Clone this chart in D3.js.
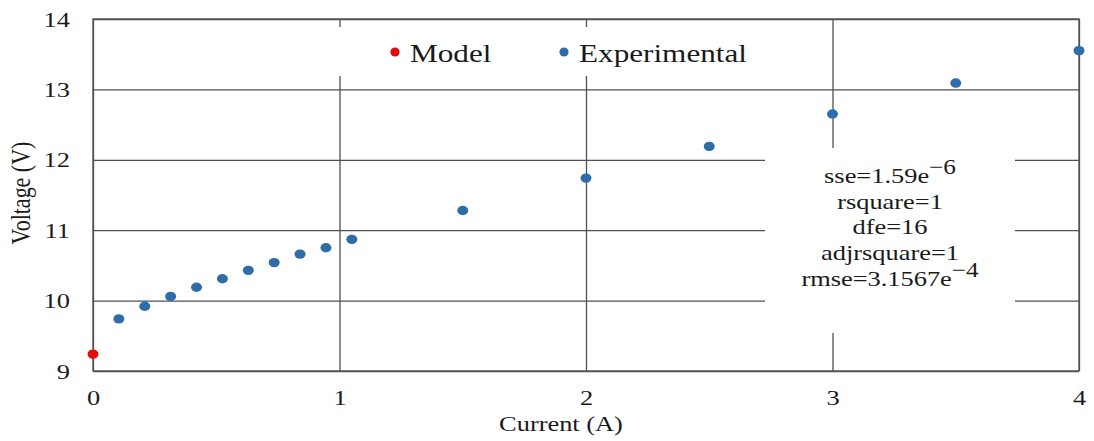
<!DOCTYPE html>
<html>
<head>
<meta charset="utf-8">
<script src="https://cdn.jsdelivr.net/npm/d3@7"></script>
<style>
  html, body { margin: 0; padding: 0; background: #fff; }
  svg { display: block; }
  text { font-family: "Liberation Serif", "Times New Roman", serif; fill: #1a1a1a; }
</style>
</head>
<body>
<svg id="chart" width="1094" height="441"></svg>
<script>
// ---- data ----
const currentModel = [0];
const voltageModel = [9.24];
const currentExp = [0.105, 0.21, 0.315, 0.42, 0.525, 0.63, 0.735, 0.84, 0.945, 1.05, 1.5, 2.0, 2.5, 3.0, 3.5, 4.0];
const voltageExp = [9.74, 9.92, 10.06, 10.19, 10.31, 10.43, 10.54, 10.66, 10.75, 10.87, 11.28, 11.74, 12.19, 12.65, 13.09, 13.55];
const xTicks = [0, 1, 2, 3, 4];
const yTicks = [9, 10, 11, 12, 13, 14];
const legendLabels = ["Model", "Experimental"];
const fitLabels = ["sse=1.59e", "rsquare=1", "dfe=16", "adjrsquare=1", "rmse=3.1567e"];
const fitExponents = ["\u22126", "", "", "", "\u22124"];
const xTitle = "Current (A)";
const yTitle = "Voltage (V)";

// ---- layout ----
const svg = d3.select("#chart");
const L = 93, R = 1079, T = 19, B = 371;
const SX = 1.2;           // horizontal stretch of the original text
const gridColor = "#505050";
const blue = "#2f6da8", red = "#e30a0a";

const x = d3.scaleLinear().domain([0, 4]).range([L, R]);
const y = d3.scaleLinear().domain([9, 14]).range([B, T]);

// vertical gridlines + x tick labels
const gx = svg.append("g").attr("transform", `translate(0,${B})`)
  .call(d3.axisBottom(x).tickValues(xTicks).tickFormat(d3.format("d"))
    .tickSize(-(B - T)).tickPadding(18));
gx.select(".domain").remove();
gx.selectAll(".tick line").attr("stroke", gridColor).attr("stroke-width", 1.3);
gx.selectAll(".tick text")
  .attr("font-size", 22).attr("font-family", "Liberation Serif").attr("fill", "#1a1a1a")
  .attr("transform", function() { return `translate(0,${d3.select(this).attr("y")}) scale(${SX},1)`; })
  .attr("y", 0);

// horizontal gridlines + y tick labels
const gy = svg.append("g").attr("transform", `translate(${L},0)`)
  .call(d3.axisLeft(y).tickValues(yTicks).tickFormat(d3.format("d"))
    .tickSize(-(R - L)).tickPadding(23));
gy.select(".domain").remove();
gy.selectAll(".tick line").attr("stroke", gridColor).attr("stroke-width", 1.3);
gy.selectAll(".tick text")
  .attr("font-size", 22).attr("font-family", "Liberation Serif").attr("fill", "#1a1a1a")
  .attr("transform", `translate(-23,0) scale(${SX},1)`)
  .attr("x", 0);

// frame
svg.append("rect").attr("x", L).attr("y", T).attr("width", R - L).attr("height", B - T)
  .attr("fill", "none").attr("stroke", gridColor).attr("stroke-width", 1.3);

// legend box (white, covers gridlines)
svg.append("rect").attr("x", 330).attr("y", 27).attr("width", 445).attr("height", 49).attr("fill", "#fff");
const legendColors = [red, blue];
const legendX = [395, 564];
const lg = svg.append("g");
legendLabels.forEach((lab, i) => {
  lg.append("circle").attr("cx", legendX[i]).attr("cy", 52).attr("r", 4.6).attr("fill", legendColors[i]);
  lg.append("text").attr("transform", `translate(${legendX[i] + 15},62) scale(${SX},1)`)
    .attr("font-size", 26).text(lab);
});

// stats box
svg.append("rect").attr("x", 765).attr("y", 148).attr("width", 250).attr("height", 185).attr("fill", "#fff");
const statBase = [183, 209, 234, 260, 286];
fitLabels.forEach((lab, i) => {
  const t = svg.append("text")
    .attr("transform", `translate(890,${statBase[i]}) scale(${SX},1)`)
    .attr("text-anchor", "middle")
    .attr("font-size", 22);
  t.append("tspan").text(lab);
  if (fitExponents[i]) {
    t.append("tspan").attr("dy", -9).attr("font-size", 21).text(fitExponents[i]);
  }
});

// points
svg.append("g").selectAll("ellipse.exp").data(currentExp.map((c, i) => [c, voltageExp[i]]))
  .join("ellipse").attr("class", "exp")
  .attr("cx", d => x(d[0])).attr("cy", d => y(d[1]))
  .attr("rx", 5.5).attr("ry", 4.7).attr("fill", blue);
svg.append("g").selectAll("ellipse.mod").data(currentModel.map((c, i) => [c, voltageModel[i]]))
  .join("ellipse").attr("class", "mod")
  .attr("cx", d => x(d[0])).attr("cy", d => y(d[1]))
  .attr("rx", 5.5).attr("ry", 4.7).attr("fill", red);

// axis titles
svg.append("text").attr("transform", `translate(561,431) scale(${SX},1)`)
  .attr("text-anchor", "middle").attr("font-size", 22).text(xTitle);
svg.append("text").attr("transform", `translate(30,193) rotate(-90) scale(1,${SX})`)
  .attr("text-anchor", "middle").attr("font-size", 22).text(yTitle);
</script>
</body>
</html>
